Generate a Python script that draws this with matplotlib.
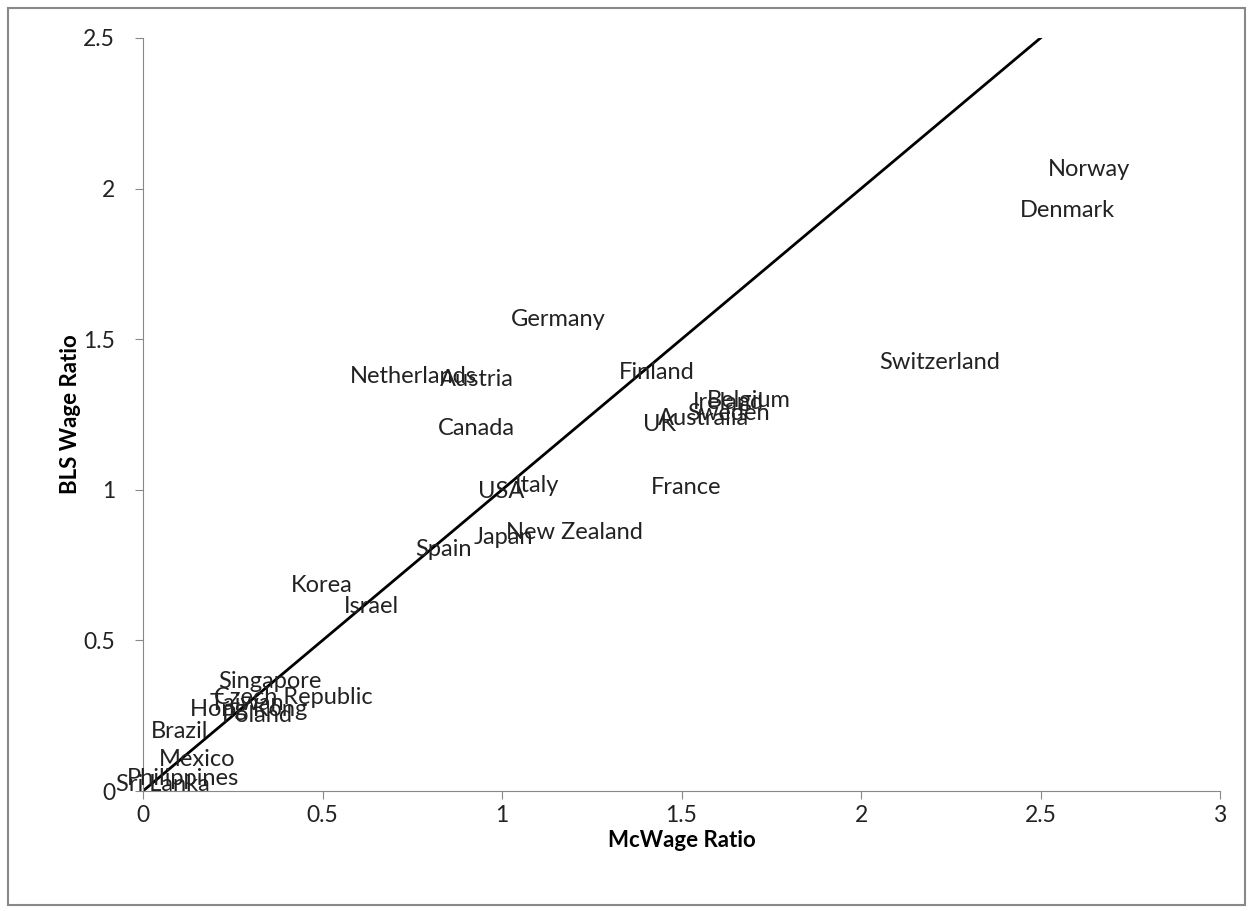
import matplotlib.pyplot as plt
from matplotlib.patches import Rectangle

plt.rcParams['font.family'] = ['Lato', 'DejaVu Sans']

# Country labels placed at (McWage ratio, BLS wage ratio)
countries = ["Norway", "Denmark", "Switzerland", "Germany", "Netherlands", "Austria",
             "Canada", "Finland", "Ireland", "Belgium", "Sweden", "Australia", "UK",
             "USA", "Italy", "France", "New Zealand", "Japan", "Spain", "Korea", "Israel",
             "Singapore", "Czech Republic", "Taiwan", "Hong Kong", "Poland", "Brazil",
             "Mexico", "Philippines", "Sri Lanka"]
mcwage = [2.635, 2.574, 2.22, 1.156, 0.752, 0.93,
          0.928, 1.432, 1.632, 1.688, 1.63, 1.56, 1.44,
          0.997, 1.098, 1.513, 1.203, 1.003, 0.838, 0.499, 0.635,
          0.354, 0.418, 0.29, 0.295, 0.318, 0.103,
          0.15, 0.111, 0.056]
bls = [2.062, 1.926, 1.424, 1.567, 1.375, 1.365,
       1.202, 1.391, 1.291, 1.295, 1.252, 1.238, 1.218,
       0.996, 1.013, 1.009, 0.857, 0.84, 0.803, 0.681, 0.614,
       0.362, 0.312, 0.292, 0.269, 0.252, 0.199,
       0.103, 0.043, 0.02]

# 45-degree reference line
line_x = [0, 2.5]
line_y = [0, 2.5]

fig = plt.figure(figsize=(12.53, 9.11), dpi=100)
ax = fig.add_axes([143 / 1253, 1 - 791 / 911, (1220 - 143) / 1253, (791 - 38) / 911])

ax.plot(line_x, line_y, color="black", lw=2)
for name, x, y in zip(countries, mcwage, bls):
    ax.text(x, y, name, ha="center", va="center", fontsize=17, color="#222222")

ax.set_xlim(0, 3)
ax.set_ylim(0, 2.5)
ax.set_xticks([0, 0.5, 1, 1.5, 2, 2.5, 3])
ax.set_xticklabels(["0", "0.5", "1", "1.5", "2", "2.5", "3"])
ax.set_yticks([0, 0.5, 1, 1.5, 2, 2.5])
ax.set_yticklabels(["0", "0.5", "1", "1.5", "2", "2.5"])
ax.tick_params(labelsize=16.5, colors="#222222", length=6, color="#888888", pad=4)
ax.tick_params(axis="y", pad=14)
for s in ["top", "right"]:
    ax.spines[s].set_visible(False)
for s in ["left", "bottom"]:
    ax.spines[s].set_color("#888888")

ax.set_xlabel("McWage Ratio", fontsize=16, fontweight="bold", labelpad=3)
ax.set_ylabel("BLS Wage Ratio", fontsize=16, fontweight="bold", labelpad=2)

fig.patches.append(Rectangle((8 / 1253, 6 / 911), 1237 / 1253, 897 / 911,
                             transform=fig.transFigure, fill=False,
                             edgecolor="#888888", lw=1.5))

fig.savefig("out.png", dpi=100)
